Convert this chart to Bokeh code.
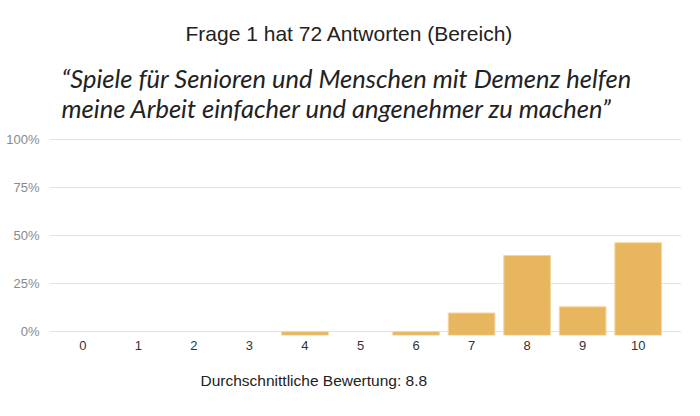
from bokeh.plotting import figure
from bokeh.models import Title, FixedTicker, PrintfTickFormatter, Range1d
from bokeh.embed import file_html
from bokeh.resources import INLINE

# Data
categories = [0, 1, 2, 3, 4, 5, 6, 7, 8, 9, 10]
bar_categories = [4, 6, 7, 8, 9, 10]
bar_percent = [0.0, 0.0, 9.7, 39.6, 12.9, 46.2]
y_ticks = [0, 25, 50, 75, 100]
title_text = "Frage 1 hat 72 Antworten (Bereich)"
quote_line1 = "\u201cSpiele f\u00fcr Senioren und Menschen mit Demenz helfen"
quote_line2 = "meine Arbeit einfacher und angenehmer zu machen\u201d"
footer_text = "Durchschnittliche Bewertung: 8.8"

BASE = -1.9

p = figure(width=700, height=416, output_backend="svg", toolbar_location=None,
           title_location=None,
           x_range=Range1d(-0.6, 10.78), y_range=Range1d(-2.0, 100.4),
           min_border_left=49, min_border_right=19, min_border_top=138, min_border_bottom=81)
p.outline_line_color = None
p.background_fill_color = "white"
p.border_fill_color = "white"

p.vbar(x=bar_categories, top=bar_percent, bottom=BASE, width=0.84,
       fill_color="#E7B65F", line_color="#F2D6A2", line_width=1)

p.xaxis.ticker = FixedTicker(ticks=categories)
p.yaxis.ticker = FixedTicker(ticks=y_ticks)
p.yaxis.formatter = PrintfTickFormatter(format="%d%%")
for ax in (p.xaxis[0], p.yaxis[0]):
    ax.axis_line_color = None
    ax.major_tick_line_color = None
    ax.minor_tick_line_color = None
    ax.major_tick_out = 0
    ax.major_tick_in = 0
    ax.minor_tick_out = 0
    ax.minor_tick_in = 0
    ax.major_label_text_font = "Liberation Sans"
    ax.major_label_text_font_size = "13px"
p.xaxis.major_label_text_color = "#333333"
p.yaxis.major_label_text_color = "#8a8a8a"
p.xaxis.major_label_standoff = 5
p.yaxis.major_label_standoff = 10
p.xgrid.grid_line_color = None
p.ygrid.grid_line_color = "#e3e3e3"
p.ygrid.grid_line_width = 1

def make_title(text, font, size, offset, standoff, style="normal"):
    return Title(text=text, align="left", offset=offset, standoff=standoff,
                 text_font=font, text_font_size=size, text_font_style=style,
                 text_color="#222222", text_line_height=1.0)

p.add_layout(make_title(quote_line1 + "\n" + quote_line2, "Lato", "25.5px", 12, 32, "italic"), "above")
p.add_layout(make_title(title_text, "Liberation Sans", "21px", 136, 0), "above")
p.add_layout(make_title(footer_text, "Liberation Sans", "15.5px", 151, 34), "below")

open("out.html", "w").write(file_html(p, INLINE))
